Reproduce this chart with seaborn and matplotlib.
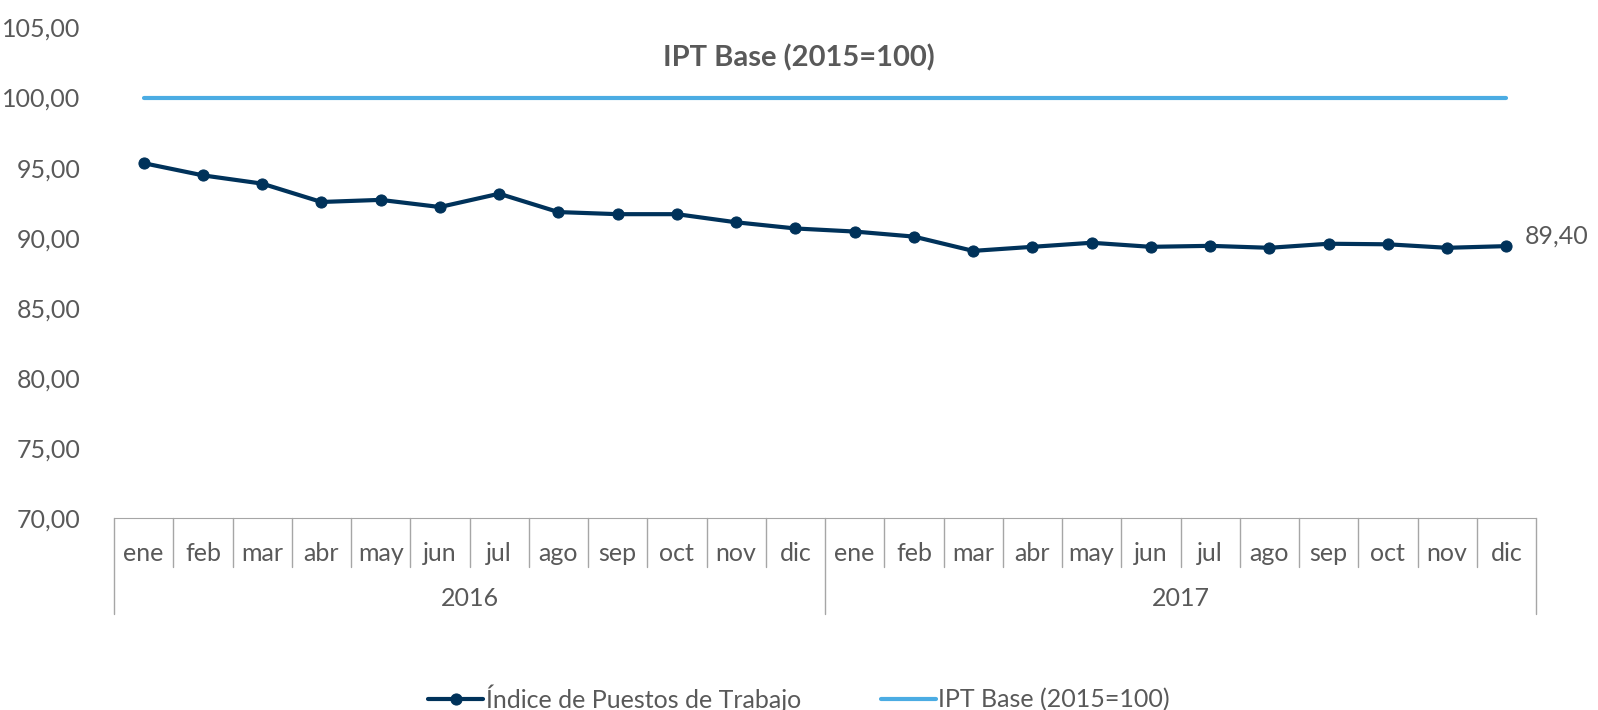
import pandas as pd
import numpy as np
import matplotlib.pyplot as plt
import seaborn as sns

sns.set_style("white")
plt.rcParams['font.family'] = ['Lato', 'DejaVu Sans']

# ============================================================
# Data
# ============================================================

months = ['ene', 'feb', 'mar', 'abr', 'may', 'jun', 'jul', 'ago', 'sep', 'oct', 'nov', 'dic']
years = ['2016', '2017']
ipt_values = [95.32, 94.45, 93.86, 92.55, 92.70, 92.19, 93.14, 91.83, 91.68, 91.68, 91.10, 90.66,
              90.44, 90.08, 89.06, 89.35, 89.64, 89.35, 89.42, 89.28, 89.57, 89.53, 89.28, 89.40]
base_values = [100.0] * 24

df = pd.DataFrame({
    'pos': np.arange(len(ipt_values)),
    'ipt': ipt_values,
    'base': base_values,
})

dark = '#00325A'
light = '#4BACE3'
grey = '#595959'
fs = 18

# ============================================================
# Plot
# ============================================================

fig = plt.figure(figsize=(15.98, 7.10), dpi=100)
ax = fig.add_axes([114 / 1598, 1 - 518 / 710, (1536 - 114) / 1598, (518 - 27.5) / 710])

sns.lineplot(data=df, x='pos', y='ipt', ax=ax, color=dark, linewidth=3, marker='o',
             markersize=8, markeredgecolor=dark, label='Índice de Puestos de Trabajo')
sns.lineplot(data=df, x='pos', y='base', ax=ax, color=light, linewidth=3,
             label='IPT Base (2015=100)')

ax.set_xlim(-0.5, len(ipt_values) - 0.5)
ax.set_ylim(70, 105)
ax.set_yticks(np.arange(70, 106, 5))
ax.set_yticklabels([f'{v:.2f}'.replace('.', ',') for v in np.arange(70, 106, 5)],
                   fontsize=fs, color=grey)
ax.tick_params(axis='y', length=0, pad=24)
ax.set_xticks([])
ax.set_xlabel('')
ax.set_ylabel('')

for s in ['left', 'right', 'top']:
    ax.spines[s].set_visible(False)
ax.spines['bottom'].set_color('#A6A6A6')

# last value label
last = len(ipt_values) - 1
ax.annotate(f'{ipt_values[-1]:.2f}'.replace('.', ','), (last, ipt_values[-1]),
            xytext=(13, 7), textcoords='offset points', fontsize=fs, color=grey,
            va='center')

# two-level category axis
tr = ax.get_xaxis_transform()
month_y = -0.072
for i in range(len(ipt_values)):
    ax.text(i, month_y, months[i % 12], transform=tr, ha='center', va='center',
            fontsize=fs, color=grey)
for i in range(len(ipt_values) + 1):
    bottom = -0.195 if i % 12 == 0 else -0.10
    ax.plot([i - 0.5, i - 0.5], [0, bottom], transform=tr, color='#A6A6A6',
            linewidth=1, clip_on=False)
for j, yr in enumerate(years):
    ax.text(j * 12 + 5.5, -0.165, yr, transform=tr, ha='center', va='center',
            fontsize=fs, color=grey)

fig.text(0.5, 1 - 58 / 710, 'IPT Base (2015=100)', ha='center', va='center',
         fontsize=21, fontweight='bold', color=grey)

ax.get_legend().remove()
handles, labels = ax.get_legend_handles_labels()
fig.legend(handles, labels, loc='center', bbox_to_anchor=(0.5, 1 - 698 / 710), ncol=2,
           frameon=False, fontsize=fs, labelcolor=grey, handlelength=2.2,
           handletextpad=0.1, columnspacing=3.2)

plt.savefig('out.png', dpi=100)
